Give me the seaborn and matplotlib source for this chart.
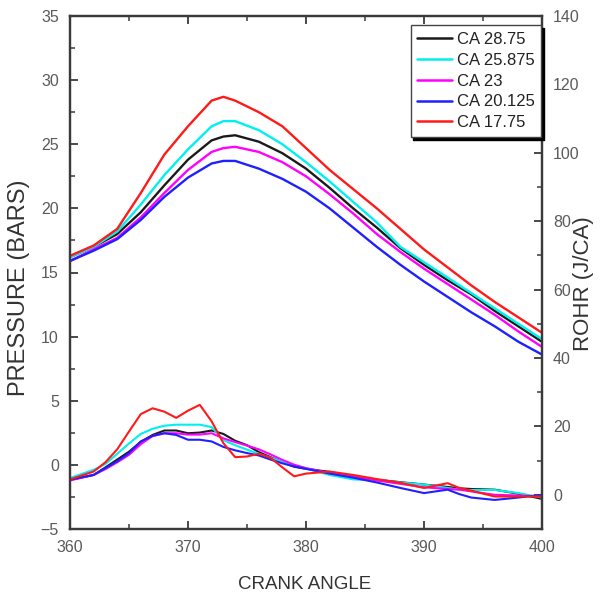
import numpy as np
import pandas as pd
import matplotlib
matplotlib.use("Agg")
import matplotlib.pyplot as plt
import seaborn as sns
from matplotlib.ticker import MultipleLocator

# ---------------- data ----------------
labels = ["CA 28.75", "CA 25.875", "CA 23", "CA 20.125", "CA 17.75"]
colors = ["#1a1a1a", "#00f0f0", "#ff00ff", "#2020ff", "#ff1a1a"]

p_theta = [360, 362, 364, 366, 368, 370, 372, 373, 374, 376, 378, 380,
           382, 384, 386, 388, 390, 392, 394, 396, 398, 400]
p_black = [16.2, 17.0, 18.0, 19.7, 21.8, 23.8, 25.3, 25.6, 25.7, 25.2, 24.3, 23.1,
           21.6, 20.0, 18.5, 16.9, 15.6, 14.4, 13.3, 12.0, 10.8, 9.6]
p_cyan = [16.2, 17.0, 18.2, 20.3, 22.6, 24.6, 26.4, 26.8, 26.8, 26.1, 25.0, 23.6,
          22.1, 20.5, 18.9, 17.0, 15.8, 14.6, 13.4, 12.2, 11.0, 9.8]
p_magenta = [15.9, 16.8, 17.7, 19.3, 21.2, 23.0, 24.4, 24.7, 24.8, 24.4, 23.6, 22.5,
             21.1, 19.6, 18.0, 16.6, 15.3, 14.1, 12.9, 11.7, 10.4, 9.2]
p_blue = [15.9, 16.7, 17.6, 19.1, 20.9, 22.4, 23.5, 23.7, 23.7, 23.1, 22.3, 21.3,
          20.0, 18.5, 17.0, 15.6, 14.3, 13.1, 11.9, 10.8, 9.6, 8.6]
p_red = [16.3, 17.1, 18.4, 21.2, 24.2, 26.4, 28.4, 28.7, 28.4, 27.5, 26.4, 24.7,
         23.0, 21.5, 20.0, 18.4, 16.8, 15.4, 14.0, 12.7, 11.5, 10.3]

r_theta = [360, 362, 363, 364, 365, 366, 367, 368, 369, 370, 371, 372, 373, 374,
           375, 376, 377, 378, 379, 380, 382, 384, 386, 388, 390, 392, 393, 394,
           396, 398, 400]
r_black = [4.4, 5.8, 8.0, 10.3, 12.6, 15.5, 17.5, 18.8, 18.8, 18.0, 18.2, 18.8, 17.8, 15.8,
           14.5, 12.5, 11.0, 9.5, 8.2, 7.6, 6.7, 5.3, 4.4, 3.7, 3.0, 2.3, 1.9, 1.7,
           1.5, 0.3, -1.2]
r_cyan = [4.9, 7.3, 9.0, 12.0, 15.0, 17.8, 19.3, 20.2, 20.5, 20.5, 20.5, 19.8, 16.0, 14.5,
          13.2, 12.0, 10.8, 9.6, 8.6, 7.7, 5.8, 4.5, 4.2, 3.6, 3.0, 2.0, 1.5, 1.4,
          1.4, 0.5, -0.8]
r_magenta = [4.2, 5.8, 7.5, 9.5, 11.7, 14.8, 17.2, 18.0, 18.0, 17.6, 17.6, 18.0, 16.5, 15.4,
             14.4, 13.3, 11.8, 10.2, 8.8, 7.8, 6.4, 5.3, 4.2, 3.2, 2.2, 1.7, 1.5, 1.0,
             0.0, -0.2, -0.5]
r_blue = [4.4, 5.8, 7.8, 9.8, 12.2, 15.6, 17.2, 18.0, 17.5, 16.1, 16.1, 15.6, 14.0, 13.0,
          12.2, 11.5, 10.3, 9.2, 8.3, 7.6, 6.2, 5.0, 3.6, 2.0, 0.5, 1.5, 0.2, -0.8,
          -1.5, -0.8, 0.0]
r_red = [4.5, 6.8, 9.5, 13.3, 18.5, 23.6, 25.3, 24.3, 22.5, 24.6, 26.3, 21.5, 15.1, 11.0,
         11.2, 12.0, 10.8, 8.0, 5.4, 6.2, 6.8, 5.8, 4.6, 3.5, 2.0, 3.4, 2.0, 1.2,
         -0.5, -0.5, -0.5]

x_ticks = [360, 370, 380, 390, 400]
left_ticks = [-5, 0, 5, 10, 15, 20, 25, 30, 35]
right_ticks = [0, 20, 40, 60, 80, 100, 120, 140]

pressure = [p_black, p_cyan, p_magenta, p_blue, p_red]
rohr = [r_black, r_cyan, r_magenta, r_blue, r_red]

# ---------------- style ----------------
sns.set_style("ticks")
plt.rcParams["font.family"] = ["Liberation Sans", "DejaVu Sans"]

spine_col = "#3a3a3a"
tick_col = "#5a5a5a"

fig = plt.figure(figsize=(6.03, 5.99), dpi=100)
ax = fig.add_axes([70 / 603, 70 / 599, 472 / 603, 513 / 599])
ax2 = ax.twinx()

for vals, lab, c in zip(pressure, labels, colors):
    df = pd.DataFrame({"theta": p_theta, "val": vals})
    sns.lineplot(data=df, x="theta", y="val", ax=ax, color=c, lw=1.7, label=lab)

for vals, c in zip(rohr, colors):
    df = pd.DataFrame({"theta": r_theta, "val": vals})
    sns.lineplot(data=df, x="theta", y="val", ax=ax2, color=c, lw=1.5, legend=False)

ax.set_xlim(360, 400)
ax.set_ylim(-5, 35)
ax2.set_ylim(-10, 140)
ax.set_xticks(x_ticks)
ax.set_yticks(left_ticks)
ax2.set_yticks(right_ticks)
ax.xaxis.set_minor_locator(MultipleLocator(5))
ax.yaxis.set_minor_locator(MultipleLocator(2.5))
ax2.yaxis.set_minor_locator(MultipleLocator(10))

for a in (ax, ax2):
    for s in a.spines.values():
        s.set_visible(True)
        s.set_color(spine_col)
        s.set_linewidth(1.6)

ax.tick_params(axis="both", which="both", direction="in", colors=spine_col,
               labelcolor=tick_col, labelsize=11.5)
ax.tick_params(axis="x", which="both", top=True)
ax.tick_params(axis="y", which="both", right=False)
ax.tick_params(which="major", length=6, width=1.3, pad=8)
ax.tick_params(which="minor", length=3.5, width=1.1)
ax2.tick_params(axis="y", which="both", direction="in", colors=spine_col,
                labelcolor=tick_col, labelsize=11.5, left=False, right=True)
ax2.tick_params(which="major", length=6, width=1.3, pad=8)
ax2.tick_params(which="minor", length=3.5, width=1.1)

ax.set_xlabel("CRANK ANGLE", fontsize=13.5, color="#333333")
ax.set_ylabel("PRESSURE (BARS)", fontsize=17, color="#333333")
ax2.set_ylabel("ROHR (J/CA)", fontsize=16, color="#333333")
ax.xaxis.set_label_coords(0.498, -0.092)
ax.yaxis.set_label_coords(-0.085, 0.47)
ax2.yaxis.set_label_coords(1.066, 0.478)

ax.set_zorder(ax2.get_zorder() + 1)
ax.patch.set_visible(False)

leg = ax.legend(loc="upper right", bbox_to_anchor=(0.998, 0.982), borderaxespad=0,
                fontsize=12, frameon=True, fancybox=False,
                shadow={"color": "black", "alpha": 1.0},
                handlelength=2.1, handletextpad=0.25, labelspacing=0.35,
                borderpad=0.4)
leg.get_frame().set_edgecolor("#444444")
leg.get_frame().set_linewidth(1.0)
for h in leg.get_lines():
    h.set_linewidth(1.8)
for t in leg.get_texts():
    t.set_color("#222222")

fig.savefig("out.png", dpi=100)
